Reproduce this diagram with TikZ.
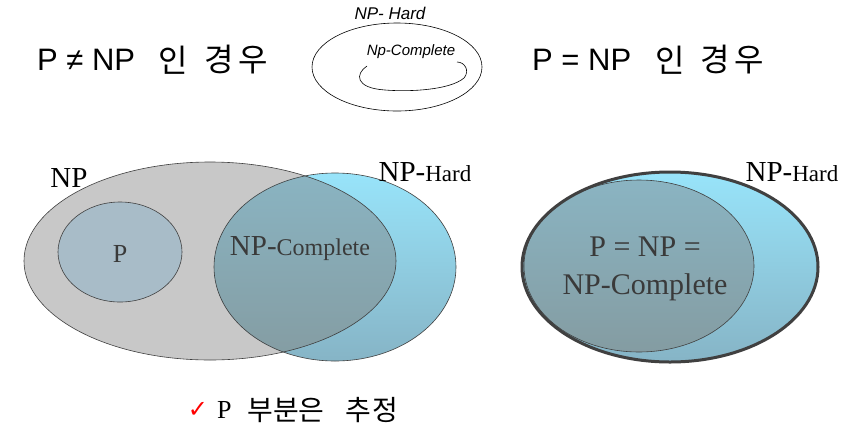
\documentclass[tikz,border=0pt]{standalone}
\usepackage{fontspec}
\setmainfont{Liberation Serif}
\newfontfamily\arialf{Liberation Sans}
\newfontfamily\krsans{Noto Sans CJK KR}
\newfontfamily\dejavu{DejaVu Sans}
\definecolor{npgray}{RGB}{200,200,200}
\definecolor{hardT}{RGB}{152,228,250}
\definecolor{hardB}{RGB}{134,180,198}
\definecolor{intT}{RGB}{138,180,194}
\definecolor{intB}{RGB}{132,156,162}
\definecolor{pfill}{RGB}{168,188,200}
\definecolor{txtgray}{RGB}{58,58,58}
\definecolor{rimgray}{RGB}{64,64,64}
\tikzset{
  outl/.style={draw=black!75, line width=0.6pt},
  lbl/.style={inner sep=0pt, anchor=center},
  krtitle/.style={lbl, font={\fontsize{32}{34}\selectfont\krsans}},
}
\begin{document}
\begin{tikzpicture}[x=1pt,y=-1pt]
\useasboundingbox[fill=white] (0,0) rectangle (846,432);

% titles
\node[lbl, anchor=west] (t1) at (37,60) {\fontsize{31}{34}\selectfont\arialf P ≠ NP};
\node[krtitle] (t1a) at (173,60) {인};
\node[krtitle] (t1b) at (236,60) {경\hspace{5pt}우};
\node[lbl, anchor=west] (t2) at (532,60) {\fontsize{31}{34}\selectfont\arialf P = NP};
\node[krtitle] (t2a) at (670,60) {인};
\node[krtitle] (t2b) at (732,60) {경\hspace{5pt}우};

% sketch
\draw[line width=0.6pt] (397,67) ellipse [x radius=85pt, y radius=44pt];
\node[lbl] (sh) at (390,13) {\fontsize{17}{19}\selectfont\arialf\itshape NP- Hard};
\node[lbl] (sc) at (411,52) {\fontsize{15}{17}\selectfont\arialf\itshape Np-Complete};
\draw[line width=0.6pt] (367,66) .. controls (355,74) and (355,88) .. (385,90)
  .. controls (410,92) and (450,90) .. (464,78)
  .. controls (470,71) and (465,62) .. (457,62);

% left diagram
\fill[npgray] (210,261) ellipse [x radius=186pt, y radius=99pt];
\shade[top color=hardT, bottom color=hardB] (335,267) ellipse [x radius=121pt, y radius=94pt];
\begin{scope}
  \clip (210,261) ellipse [x radius=186pt, y radius=99pt];
  \shade[top color=intT, bottom color=intB] (335,267) ellipse [x radius=121pt, y radius=94pt];
\end{scope}
\filldraw[fill=pfill, outl] (120,252) ellipse [x radius=62pt, y radius=50pt];
\draw[outl] (210,261) ellipse [x radius=186pt, y radius=99pt];
\draw[outl] (335,267) ellipse [x radius=121pt, y radius=94pt];

\node[lbl] (np) at (69,178) {\fontsize{29}{32}\selectfont NP};
\node[lbl] (nph1) at (425,172) {\fontsize{29}{32}\selectfont NP-{\fontsize{23}{26}\selectfont Hard}};
\node[lbl, text=txtgray] (p) at (120,254) {\fontsize{26}{28}\selectfont P};
\node[lbl, text=txtgray] (npc1) at (300,249) {\fontsize{29}{32}\selectfont NP-{\fontsize{24}{26}\selectfont Complete}};

% right diagram
\shade[top color=hardT, bottom color=hardB] (670,267) ellipse [x radius=148pt, y radius=95pt];
\shade[top color=intT, bottom color=intB] (639,266) ellipse [x radius=115pt, y radius=86pt];
\draw[outl] (639,266) ellipse [x radius=115pt, y radius=86pt];
\draw[draw=rimgray, line width=3pt] (670,267) ellipse [x radius=148pt, y radius=95pt];

\node[lbl] (nph2) at (792,172) {\fontsize{29}{32}\selectfont NP-{\fontsize{23}{26}\selectfont Hard}};
\node[lbl, text=txtgray, align=center, font={\fontsize{30}{38}\selectfont}] (eq) at (645,269) {P = NP =\\NP-Complete};

% note
\node[lbl, text=red] (ck) at (198,410) {\fontsize{24}{26}\selectfont\dejavu ✓};
\node[lbl, anchor=west] (note) at (217,410) {\fontsize{26}{28}\selectfont P};
\node[lbl] (nota) at (286,410) {\fontsize{28}{30}\selectfont\krsans 부분은};
\node[lbl] (notb) at (372,410) {\fontsize{28}{30}\selectfont\krsans 추\hspace{2pt}정};
\end{tikzpicture}
\end{document}
